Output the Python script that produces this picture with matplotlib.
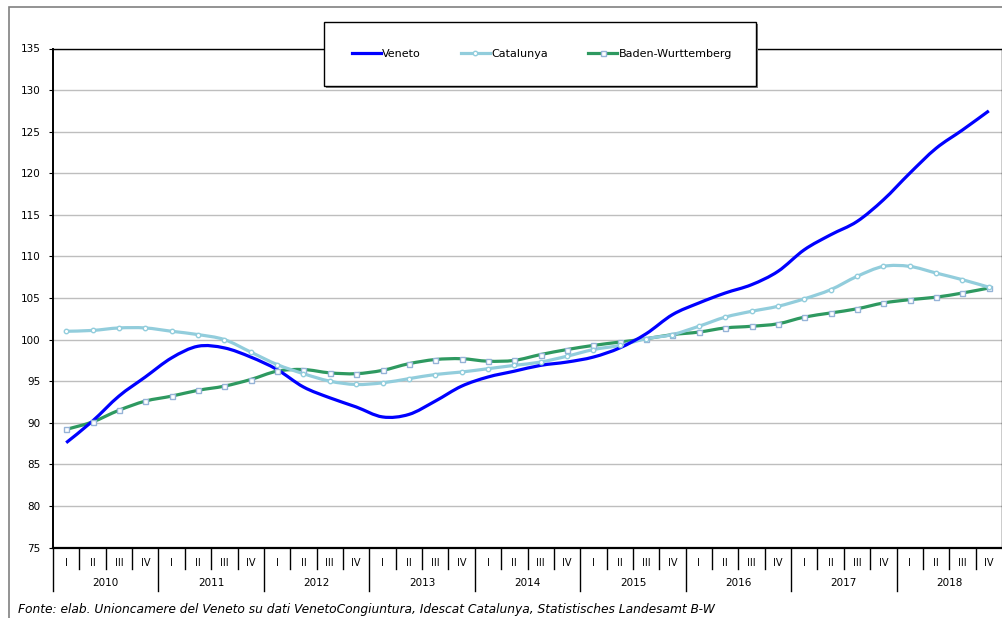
import numpy as np
import matplotlib
matplotlib.use("Agg")
import matplotlib.pyplot as plt
from matplotlib.path import Path
from matplotlib.patches import PathPatch, Rectangle
from matplotlib.lines import Line2D
import matplotlib.transforms as mtransforms

# dati trimestrali 2010-2018 (indice)
years = ["2010", "2011", "2012", "2013", "2014", "2015", "2016", "2017", "2018"]
quarters = ["I", "II", "III", "IV"]

veneto = [87.6, 90.2, 93.2, 95.5, 97.8, 99.2, 99.0, 97.9,
          96.4, 94.3, 93.0, 91.9, 90.7, 91.0, 92.6, 94.4,
          95.5, 96.2, 96.9, 97.3, 97.9, 99.0, 100.7, 103.0,
          104.4, 105.6, 106.6, 108.2, 110.8, 112.6, 114.2, 116.8,
          120.0, 123.0, 125.2, 127.5]
catalunya = [101.0, 101.1, 101.4, 101.4, 101.0, 100.6, 100.0, 98.5,
             97.0, 95.9, 95.0, 94.6, 94.8, 95.3, 95.8, 96.1,
             96.5, 96.9, 97.3, 98.0, 98.8, 99.3, 100.1, 100.6,
             101.6, 102.7, 103.4, 104.0, 104.9, 106.0, 107.6, 108.8,
             108.8, 108.0, 107.2, 106.3]
baden = [89.2, 90.1, 91.5, 92.6, 93.2, 93.9, 94.4, 95.2,
         96.2, 96.4, 96.0, 95.9, 96.3, 97.1, 97.6, 97.7,
         97.4, 97.5, 98.2, 98.8, 99.3, 99.7, 100.1, 100.6,
         100.9, 101.4, 101.6, 101.9, 102.7, 103.2, 103.7, 104.4,
         104.8, 105.1, 105.6, 106.2]

W, H = 1003, 618
fig = plt.figure(figsize=(W / 100, H / 100), dpi=100)

def px_rect(x0, y0, x1, y1):
    # pixel (top-left origin) -> figure fraction
    return [x0 / W, 1 - y1 / H, (x1 - x0) / W, (y1 - y0) / H]

ax = fig.add_axes(px_rect(53, 48.5, 1002, 547.5))

# curve smussate (stile Excel) tramite bezier cubiche
def smooth_path(y):
    x = np.arange(len(y), dtype=float)
    pts = np.column_stack([x, np.asarray(y, dtype=float)])
    ext = np.vstack([pts[0], pts, pts[-1]])
    verts = [pts[0]]
    codes = [Path.MOVETO]
    for i in range(len(pts) - 1):
        p0, p1, p2, p3 = ext[i], ext[i + 1], ext[i + 2], ext[i + 3]
        verts += [p1 + (p2 - p0) / 6, p2 - (p3 - p1) / 6, p2]
        codes += [Path.CURVE4] * 3
    return Path(verts, codes)

c_ven = "#0000FF"
c_cat = "#92CDDC"
c_bw = "#2E9960"
c_mk = "#95B3D7"

ax.add_patch(PathPatch(smooth_path(baden), fill=False, edgecolor=c_bw, lw=2.3, zorder=3))
ax.add_patch(PathPatch(smooth_path(catalunya), fill=False, edgecolor=c_cat, lw=2.3, zorder=4))
ax.add_patch(PathPatch(smooth_path(veneto), fill=False, edgecolor=c_ven, lw=2.3, zorder=5))

xs = np.arange(len(veneto))
ax.plot(xs, baden, ls="none", marker="s", ms=3.6, mfc="white", mec=c_mk, mew=1.0, zorder=6)
ax.plot(xs, catalunya, ls="none", marker="o", ms=3.2, mfc="white", mec=c_cat, mew=1.0, zorder=6)

ax.set_xlim(-0.5, len(veneto) - 0.5)
ax.set_ylim(75, 135)
ax.set_yticks(np.arange(75, 136, 5))
ax.tick_params(axis="y", length=3, width=0.8, pad=6, labelsize=7.5, direction="out")
ax.set_xticks([])
ax.yaxis.grid(True, color="#BEBEBE", lw=1)
ax.set_axisbelow(True)
for s in ax.spines.values():
    s.set_color("black")
    s.set_linewidth(1)
ax.spines["bottom"].set_linewidth(1.6)
ax.spines["left"].set_linewidth(1.4)

# asse categorie a due livelli (trimestri / anni)
trans = mtransforms.blended_transform_factory(ax.transData, ax.transAxes)
ah = 499.0
y_q = -(569 - 547.5) / ah
y_y = -(591 - 547.5) / ah
n = len(veneto)
for k in range(n):
    b = k - 0.5
    if k % 4 == 0:
        ax.plot([b, b], [0, y_y], transform=trans, color="black", lw=1, clip_on=False)
    else:
        ax.plot([b, b], [0, y_q], transform=trans, color="black", lw=1, clip_on=False)
    ax.text(k, -(563 - 547.5) / ah, quarters[k % 4], transform=trans,
            ha="center", va="center", fontsize=7, color="black")
for j, yr in enumerate(years):
    ax.text(j * 4 + 1.5, -(583 - 547.5) / ah, yr, transform=trans,
            ha="center", va="center", fontsize=7.5, color="black")

# cornice esterna
fig.patches.append(Rectangle((9 / W, -0.1), 1.2, 1 - 7 / H + 0.1, transform=fig.transFigure,
                             fill=False, edgecolor="#808080", lw=1.2, zorder=0))

# legenda con riquadro e ombra
fig.patches.append(Rectangle((326 / W, 1 - 88 / H), 432 / W, 64 / H, transform=fig.transFigure,
                             facecolor="#7F7F7F", edgecolor="none", zorder=8))
fig.patches.append(Rectangle((324 / W, 1 - 86 / H), 432 / W, 64 / H, transform=fig.transFigure,
                             facecolor="white", edgecolor="black", lw=1, zorder=9))
handles = [
    Line2D([], [], color=c_ven, lw=2.3),
    Line2D([], [], color=c_cat, lw=2.3, marker="o", ms=3.2, mfc="white", mec=c_cat),
    Line2D([], [], color=c_bw, lw=2.3, marker="s", ms=3.6, mfc="white", mec=c_mk),
]
leg = fig.legend(handles, ["Veneto", "Catalunya", "Baden-Wurttemberg"], loc="center",
                 bbox_to_anchor=(542 / W, 1 - 54 / H), ncol=3, frameon=False,
                 fontsize=8, handlelength=2.6, handletextpad=0.15, columnspacing=3.6,
                 markerfirst=True)
leg.set_zorder(10)

fig.text(18 / W, 1 - 609 / H,
         "Fonte: elab. Unioncamere del Veneto su dati VenetoCongiuntura, Idescat Catalunya, "
         "Statistisches Landesamt B-W",
         fontsize=8.8, style="italic", ha="left", va="center")

fig.savefig("out.png", dpi=100)
